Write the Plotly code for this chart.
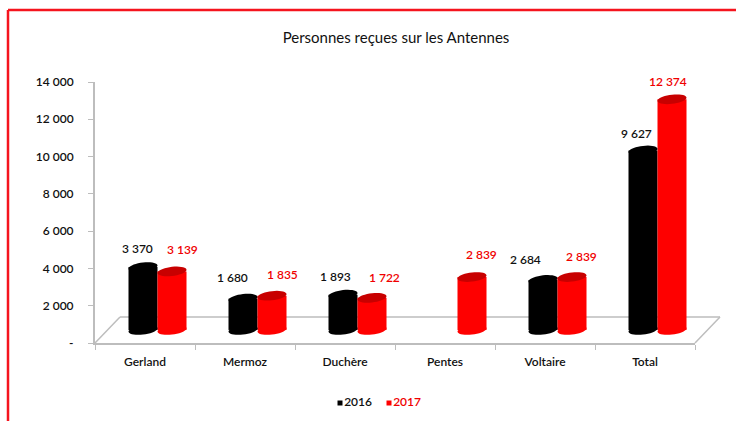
import math
import plotly.graph_objects as go

categories = ["Gerland", "Mermoz", "Duchère", "Pentes", "Voltaire", "Total"]
values_2016 = [3370, 1680, 1893, None, 2684, 9627]
values_2017 = [3139, 1835, 1722, 2839, 2839, 12374]
labels_2016 = ["3 370", "1 680", "1 893", "", "2 684", "9 627"]
labels_2017 = ["3 139", "1 835", "1 722", "2 839", "2 839", "12 374"]
y_ticks = [0, 2000, 4000, 6000, 8000, 10000, 12000, 14000]
y_tick_labels = ["-", "2 000", "4 000", "6 000", "8 000", "10 000", "12 000", "14 000"]
series_names = ["2016", "2017"]

W, H = 736, 421
L, R, T, B = 95, 695, 82, 343
BLACK, RED, RED_TOP = "#000000", "#fe0000", "#c80000"
AXIS = "#bdbdbd"
FONT = "Lato"
TEXT = "#111111"
LABEL_RED = "#f00000"
FLOOR_BASE = 700       # 3D depth lift of the bars above the front axis line
BAR_W = 0.29
GROUP_SHIFT = 0.125
xs = list(range(len(categories)))


def px(x):
    return x / W


def py(y):
    return 1 - y / H


def ellipse_path(rx=14.5, ry=4.6, tilt=1.6, n=36):
    pts = []
    for k in range(n):
        t = 2 * math.pi * k / n
        pts.append((rx * math.cos(t), ry * math.sin(t) + tilt * math.cos(t)))
    return "M" + " L".join(f"{a:.2f},{b:.2f}" for a, b in pts) + " Z"


fig = go.Figure()
fig.add_bar(x=xs, y=values_2016, base=FLOOR_BASE, name=series_names[0], width=BAR_W,
            offset=GROUP_SHIFT - BAR_W, marker=dict(color=BLACK, line_width=0))
fig.add_bar(x=xs, y=values_2017, base=FLOOR_BASE, name=series_names[1], width=BAR_W,
            offset=GROUP_SHIFT, marker=dict(color=RED, line_width=0))

# compact legend, on a page-sized hidden axis pair so it adds no margin
fig.add_scatter(x=[340, 389], y=[403, 403], xaxis="x2", yaxis="y2", mode="markers+text",
                text=series_names, textposition="middle right",
                marker=dict(symbol="square", size=5, color=[BLACK, RED]),
                textfont=dict(family=FONT, size=12, weight=600, color=[TEXT, LABEL_RED]),
                cliponaxis=False)

shapes = []
annotations = []
# per-label nudges (px) taken from the hand-placed labels of the source
nudge_2016 = [(-6, 19), (-11, 21), (-8, 18), (0, 0), (-18, 20), (-7, 17)]
nudge_2017 = [(10, 22), (10, 21), (12, 20), (9, 23), (9, 21), (-4, 18)]
for series, labels, nudges, off, body, top, colour in [
    (values_2016, labels_2016, nudge_2016, -BAR_W / 2, BLACK, BLACK, TEXT),
    (values_2017, labels_2017, nudge_2017, BAR_W / 2, RED, RED_TOP, LABEL_RED),
]:
    for i, v in enumerate(series):
        if v is None:
            continue
        cx = i + GROUP_SHIFT + off
        for yv, fill in [(FLOOR_BASE, body), (FLOOR_BASE + v, top)]:
            shapes.append(dict(type="path", xref="x", yref="y", xsizemode="pixel",
                               ysizemode="pixel", xanchor=cx, yanchor=yv,
                               path=ellipse_path(), fillcolor=fill,
                               line=dict(width=0), layer="above"))
        annotations.append(dict(x=cx, y=FLOOR_BASE + v, xref="x", yref="y", text=labels[i],
                                showarrow=False, xshift=nudges[i][0], yshift=nudges[i][1],
                                font=dict(family=FONT, size=12, color=colour, weight=600)))

# 3D floor
for x0, y0, x1, y1 in [(L + 25, B - 26, R + 25, B - 26), (L, B, L + 25, B - 26), (R, B, R + 25, B - 26)]:
    shapes.append(dict(type="line", xref="paper", yref="paper", x0=px(x0), y0=py(y0),
                       x1=px(x1), y1=py(y1), line=dict(color=AXIS, width=1.5), layer="below"))

# red frame
FRAME = "#f5141e"
shapes.append(dict(type="line", xref="paper", yref="paper", x0=px(8), y0=py(10), x1=1, y1=py(10),
                   line=dict(color=FRAME, width=2.5)))
shapes.append(dict(type="line", xref="paper", yref="paper", x0=px(8), y0=py(10), x1=px(8), y1=0,
                   line=dict(color=FRAME, width=2.5)))

fig.update_layout(
    width=W, height=H,
    margin=dict(l=0, r=0, t=0, b=0, pad=0),
    paper_bgcolor="white", plot_bgcolor="rgba(0,0,0,0)",
    font=dict(family=FONT, size=12, color=TEXT),
    title=dict(text="Personnes reçues sur les Antennes", x=396 / W, xanchor="center",
               y=1 - 38 / H, yanchor="middle", font=dict(family=FONT, size=15, color=TEXT)),
    showlegend=False,
    xaxis=dict(domain=[px(L), px(R)], range=[-0.5, len(categories) - 0.5], tickmode="array",
               tickvals=xs, ticktext=categories, ticks="", showgrid=False, zeroline=False,
               automargin=False,
               showline=True, linecolor=AXIS, linewidth=2, ticklabelstandoff=7,
               tickfont=dict(family=FONT, size=12, color=TEXT, weight=600),
               minor=dict(tickmode="array", tickvals=[i - 0.5 for i in range(len(categories) + 1)],
                          ticks="outside", ticklen=5, tickcolor=AXIS, tickwidth=1, showgrid=False)),
    yaxis=dict(domain=[py(B), py(T)], range=[0, 14000], tickmode="array", tickvals=y_ticks,
               ticktext=y_tick_labels, ticks="outside", ticklen=5, tickcolor=AXIS, tickwidth=1,
               automargin=False,
               showgrid=False, zeroline=False, showline=True, linecolor=AXIS, linewidth=2,
               ticklabelstandoff=12, tickfont=dict(family=FONT, size=12, color=TEXT, weight=600)),
    xaxis2=dict(domain=[0, 1], range=[0, W], visible=False, anchor="y2", automargin=False),
    yaxis2=dict(domain=[0, 1], range=[H, 0], visible=False, anchor="x2", automargin=False),
    shapes=shapes, annotations=annotations, barmode="overlay", hovermode=False,
)
fig.write_html("out.html", config=dict(displayModeBar=False),
               post_script="document.body.style.margin='0';")
